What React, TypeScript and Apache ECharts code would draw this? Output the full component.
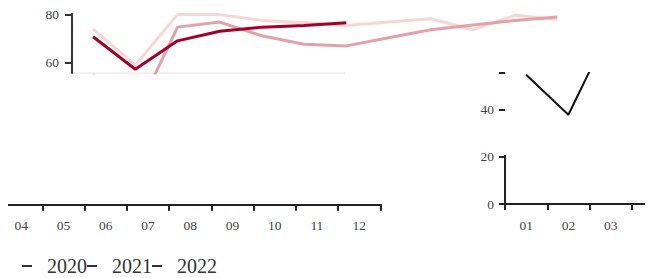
import React, { useEffect, useRef } from "react";
import * as echarts from "echarts";

const months = ["01", "02", "03", "04", "05", "06", "07", "08", "09", "10", "11", "12"];
const years = ["2020", "2021", "2022"];
const values2020 = [74, 59, 80, 80, 77.6, 76.6, 75.5, 76.9, 78.3, 73.7, 79.7, 78];
const values2021 = [55, 38, 74.8, 76.9, 71.2, 67.7, 67, 70.4, 73.7, 75.7, 77.6, 79];
const values2022 = [70.8, 57.3, 69.1, 73.1, 74.8, 75.5, 76.6];
const topTicks = [60, 80];
const detailTicks = [0, 20, 40, 55.74];
const detailLabels = [0, 20, 40];

const leftMonths = months.slice(3);
const rightMonths = months.slice(0, 3);
const rightBands = 4;
const rightValues = values2021.slice(0, 4);

const colors = ["#f6d6d7", "#e2a2a7", "#a3002a"];
const axisDark = "#222";
const labelGray = "#444";
const FONT = "serif";
const BAND = 42.25;

export default function App() {
  const ref = useRef<HTMLDivElement>(null);
  useEffect(() => {
    document.documentElement.style.overflow = "hidden";
    document.body.style.overflow = "hidden";
    const chart = echarts.init(ref.current!, null, { renderer: "svg" });
    const seriesData = [values2020, values2021, values2022];
    const bandAxis = (gridIndex: number, labels: string[], bands: number) => ({
      gridIndex,
      type: "value",
      min: 0,
      max: bands,
      interval: 1,
      splitLine: { show: false },
      axisLine: { show: true, onZero: false, lineStyle: { color: axisDark, width: 2 } },
      axisTick: { show: true, length: 6, lineStyle: { color: axisDark, width: 2 } },
      axisLabel: {
        show: true,
        color: labelGray,
        fontSize: 13.5,
        margin: 14,
        fontFamily: FONT,
        align: "center",
        padding: [0, 0, 0, BAND],
        showMinLabel: true,
        showMaxLabel: true,
        formatter: (v: number) => labels[Math.round(v)] ?? "",
      },
    });
    const tickAxis = (gridIndex: number, bands: number) => ({
      gridIndex,
      type: "value",
      position: "top",
      min: 0,
      max: bands,
      interval: 1,
      splitLine: { show: false },
      axisLine: { show: true, onZero: false, lineStyle: { color: axisDark, width: 2 } },
      axisTick: { show: true, inside: true, length: 6, lineStyle: { color: axisDark, width: 2 } },
      axisLabel: { show: false },
    });
    chart.setOption({
      animation: false,
      textStyle: { fontFamily: FONT },
      grid: [
        { left: 64, top: 5.65, width: 506.4, height: 59.35, outerBoundsMode: "none", containLabel: false },
        { left: -8, top: 96, width: 9 * BAND, height: 100.5, outerBoundsMode: "none", containLabel: false },
        { left: 497, top: 65, width: rightBands * BAND, height: 131, outerBoundsMode: "none", containLabel: false },
        { left: -8, top: 196.5, width: 9 * BAND, height: 20, outerBoundsMode: "none", containLabel: false },
        { left: 497, top: 196, width: rightBands * BAND, height: 20, outerBoundsMode: "none", containLabel: false },
      ],
      xAxis: [
        { gridIndex: 0, type: "category", data: months, show: false },
        bandAxis(1, leftMonths, leftMonths.length),
        bandAxis(2, rightMonths, rightBands),
        tickAxis(3, leftMonths.length),
        tickAxis(4, rightBands),
      ],
      yAxis: [
        {
          gridIndex: 0,
          type: "value",
          min: 55.74,
          max: 80.4,
          splitLine: { show: false },
          axisLine: { show: true, lineStyle: { color: "#333", width: 2 } },
          axisTick: { show: true, length: 7, customValues: topTicks, lineStyle: { color: "#333", width: 2 } },
          axisLabel: { customValues: topTicks, color: labelGray, fontSize: 13.5, margin: 13, fontFamily: FONT },
        },
        { gridIndex: 1, type: "value", min: 0, max: 10, show: false },
        {
          gridIndex: 2,
          type: "value",
          min: 0,
          max: 55.74,
          splitLine: { show: false },
          axisLine: { show: false },
          axisTick: { show: true, length: 6, customValues: detailTicks, lineStyle: { color: axisDark, width: 2 } },
          axisLabel: { customValues: detailLabels, color: labelGray, fontSize: 13.5, margin: 11, fontFamily: FONT },
        },
        { gridIndex: 3, type: "value", min: 0, max: 1, show: false },
        { gridIndex: 4, type: "value", min: 0, max: 1, show: false },
      ],
      legend: {
        data: years,
        left: 9,
        top: 243,
        icon: "rect",
        itemWidth: 10,
        itemHeight: 2,
        itemGap: 0,
        itemStyle: { color: "#333" },
        textStyle: { fontSize: 20, color: "#333", fontFamily: FONT, padding: [0, 0, 0, 10] },
      },
      graphic: [
        {
          type: "line",
          shape: { x1: 64, y1: 65, x2: 337, y2: 65 },
          style: { stroke: "#e4e4e4", lineWidth: 1 },
        },
        {
          type: "line",
          shape: { x1: 497, y1: 147, x2: 497, y2: 196 },
          style: { stroke: axisDark, lineWidth: 2 },
        },
      ],
      series: [
        ...years.map((y, i) => ({
          name: y,
          type: "line",
          xAxisIndex: 0,
          yAxisIndex: 0,
          data: seriesData[i],
          showSymbol: false,
          symbol: "none",
          itemStyle: { color: colors[i] },
          lineStyle: { color: colors[i], width: 3 },
          z: 2 + i,
        })),
        {
          name: "detail-shadow",
          type: "line",
          xAxisIndex: 2,
          yAxisIndex: 2,
          data: rightValues.map((v, i) => [i + 0.5, v]),
          showSymbol: false,
          symbol: "none",
          itemStyle: { color: "#aaa" },
          lineStyle: { color: "#aaa", width: 1 },
          z: 1,
        },
        {
          name: "detail",
          type: "line",
          xAxisIndex: 2,
          yAxisIndex: 2,
          data: rightValues.map((v, i) => [i + 0.5, v]),
          showSymbol: false,
          symbol: "none",
          itemStyle: { color: "#111" },
          lineStyle: { color: "#111", width: 2 },
          z: 2,
        },
      ],
    });
    return () => chart.dispose();
  }, []);
  return <div ref={ref} style={{ width: 637, height: 270 }} />;
}
